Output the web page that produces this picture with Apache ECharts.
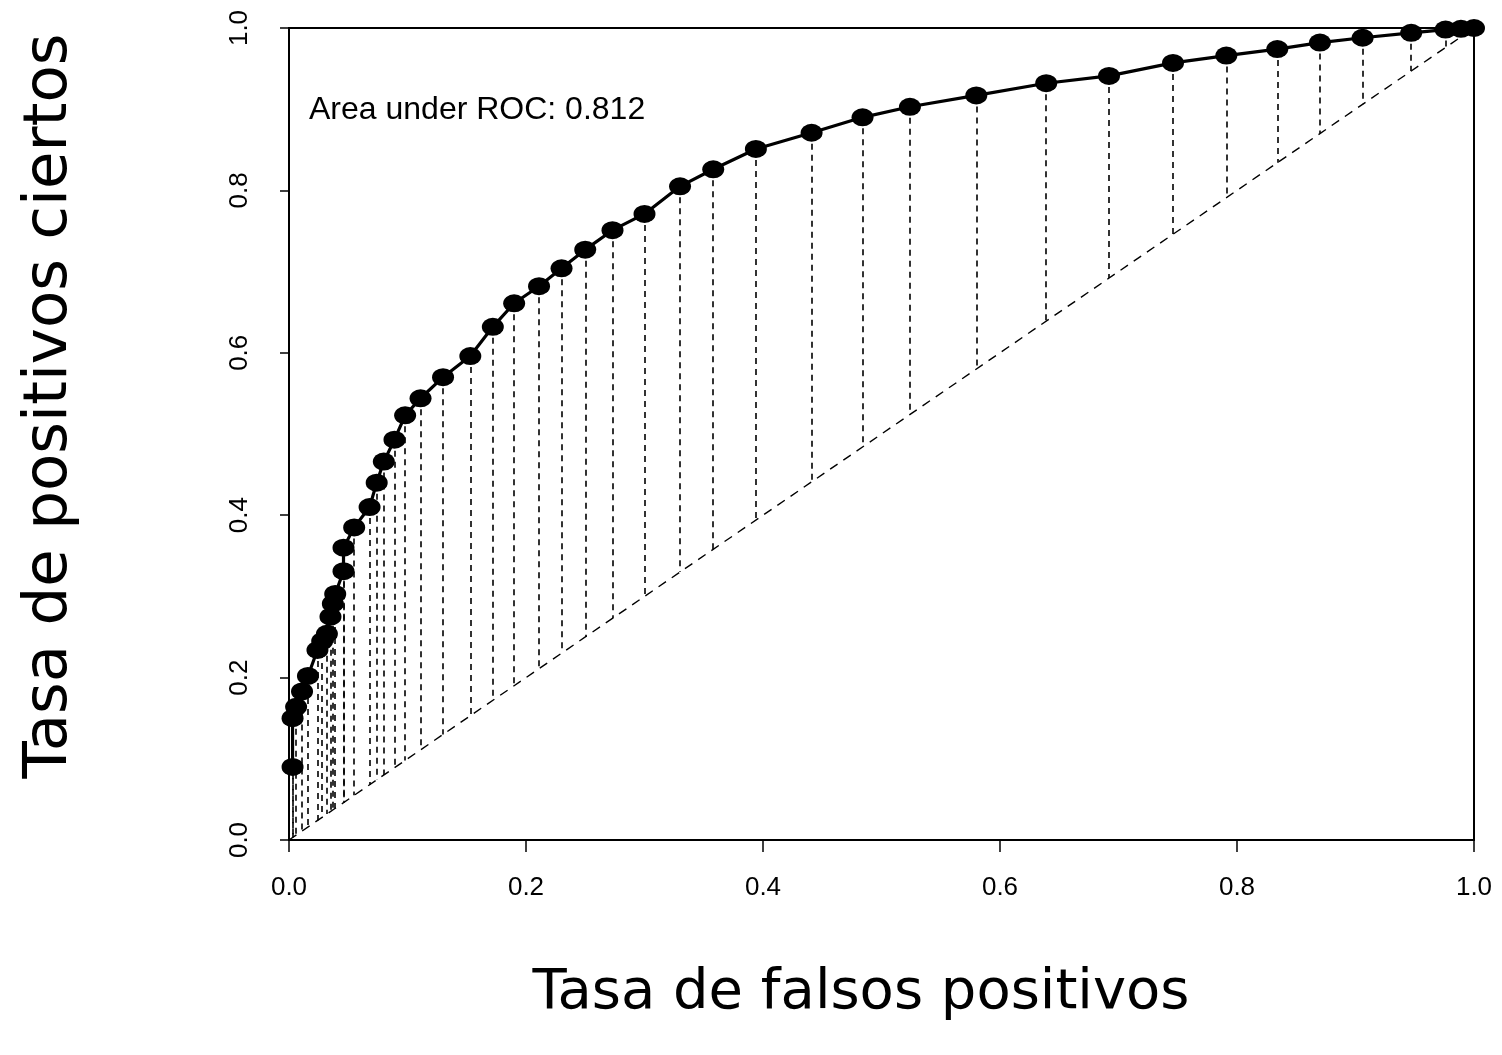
<!DOCTYPE html>
<html>
<head>
<meta charset="utf-8">
<script src="https://cdn.jsdelivr.net/npm/echarts@6/dist/echarts.min.js"></script>
<style>
  html, body { margin: 0; padding: 0; background: #fff; }
  #chart { width: 1502px; height: 1055px; }
</style>
</head>
<body>
<div id="chart"></div>
<script>
// tasa de falsos positivos (x) y de positivos ciertos (y)
const fpr = [0.003, 0.003, 0.006, 0.011, 0.016, 0.024, 0.028, 0.032, 0.035, 0.037,
  0.039, 0.046, 0.046, 0.055, 0.068, 0.074, 0.080, 0.089, 0.098, 0.111,
  0.130, 0.153, 0.172, 0.190, 0.211, 0.230, 0.250, 0.273, 0.300, 0.330,
  0.358, 0.394, 0.441, 0.484, 0.524, 0.580, 0.639, 0.692, 0.746, 0.791,
  0.834, 0.870, 0.906, 0.947, 0.976, 0.989, 1.000];
const tpr = [0.090, 0.150, 0.164, 0.183, 0.202, 0.234, 0.245, 0.254, 0.275, 0.291,
  0.303, 0.331, 0.360, 0.385, 0.410, 0.440, 0.466, 0.493, 0.523, 0.544,
  0.570, 0.596, 0.632, 0.661, 0.682, 0.704, 0.727, 0.751, 0.771, 0.805,
  0.826, 0.851, 0.871, 0.890, 0.903, 0.917, 0.932, 0.941, 0.957, 0.966,
  0.974, 0.982, 0.988, 0.994, 0.998, 0.999, 1.000];
const diagonal = [[0, 0], [1, 1]];
const auc = 0.812;

const curve = fpr.map((x, i) => [x, tpr[i]]);
// lineas verticales desde cada punto hasta la diagonal
const drops = fpr.map((x, i) => [{ coord: [x, tpr[i]] }, { coord: [x, x] }]);

const chart = echarts.init(document.getElementById('chart'));
chart.setOption({
  animation: false,
  grid: {
    left: 289, right: 28, top: 28, bottom: 215,
    show: true, borderColor: '#000', borderWidth: 2
  },
  xAxis: {
    type: 'value', min: 0, max: 1, interval: 0.2,
    axisLine: { show: true, lineStyle: { color: '#000', width: 2 } },
    axisTick: { show: true, length: 12, lineStyle: { color: '#000', width: 1.5 } },
    axisLabel: {
      margin: 35, color: '#000', fontFamily: 'Liberation Sans', fontSize: 26,
      formatter: v => v.toFixed(1)
    },
    splitLine: { show: false }
  },
  yAxis: {
    type: 'value', min: 0, max: 1, interval: 0.2,
    axisLine: { show: true, lineStyle: { color: '#000', width: 2 } },
    axisTick: { show: true, length: 9, lineStyle: { color: '#000', width: 1.5 } },
    axisLabel: {
      margin: 36, rotate: 90, color: '#000', fontFamily: 'Liberation Sans', fontSize: 26,
      formatter: v => v.toFixed(1)
    },
    splitLine: { show: false }
  },
  graphic: [
    {
      type: 'text', left: 309, top: 94,
      style: { text: 'Area under ROC: ' + auc.toFixed(3), font: '32px "Liberation Sans"', fill: '#000' }
    },
    {
      type: 'text', x: 861, y: 993,
      style: {
        text: 'Tasa de falsos positivos', font: '56px "DejaVu Sans"', fill: '#000',
        align: 'center', verticalAlign: 'middle'
      }
    },
    {
      type: 'text', x: 50, y: 406, rotation: Math.PI / 2,
      style: {
        text: 'Tasa de positivos ciertos', font: '61px "DejaVu Sans"', fill: '#000',
        align: 'center', verticalAlign: 'middle'
      }
    }
  ],
  series: [
    {
      type: 'line', data: diagonal, symbol: 'none', silent: true,
      lineStyle: { color: '#000', width: 1.4, type: [9, 7] }
    },
    {
      type: 'line', data: curve, symbol: 'circle', symbolSize: [22, 18],
      itemStyle: { color: '#000' },
      lineStyle: { color: '#000', width: 3.2 },
      z: 5,
      markLine: {
        silent: true, symbol: 'none', label: { show: false },
        lineStyle: { color: '#000', width: 1.6, type: [6, 5] },
        data: drops
      }
    }
  ]
});
</script>
</body>
</html>
